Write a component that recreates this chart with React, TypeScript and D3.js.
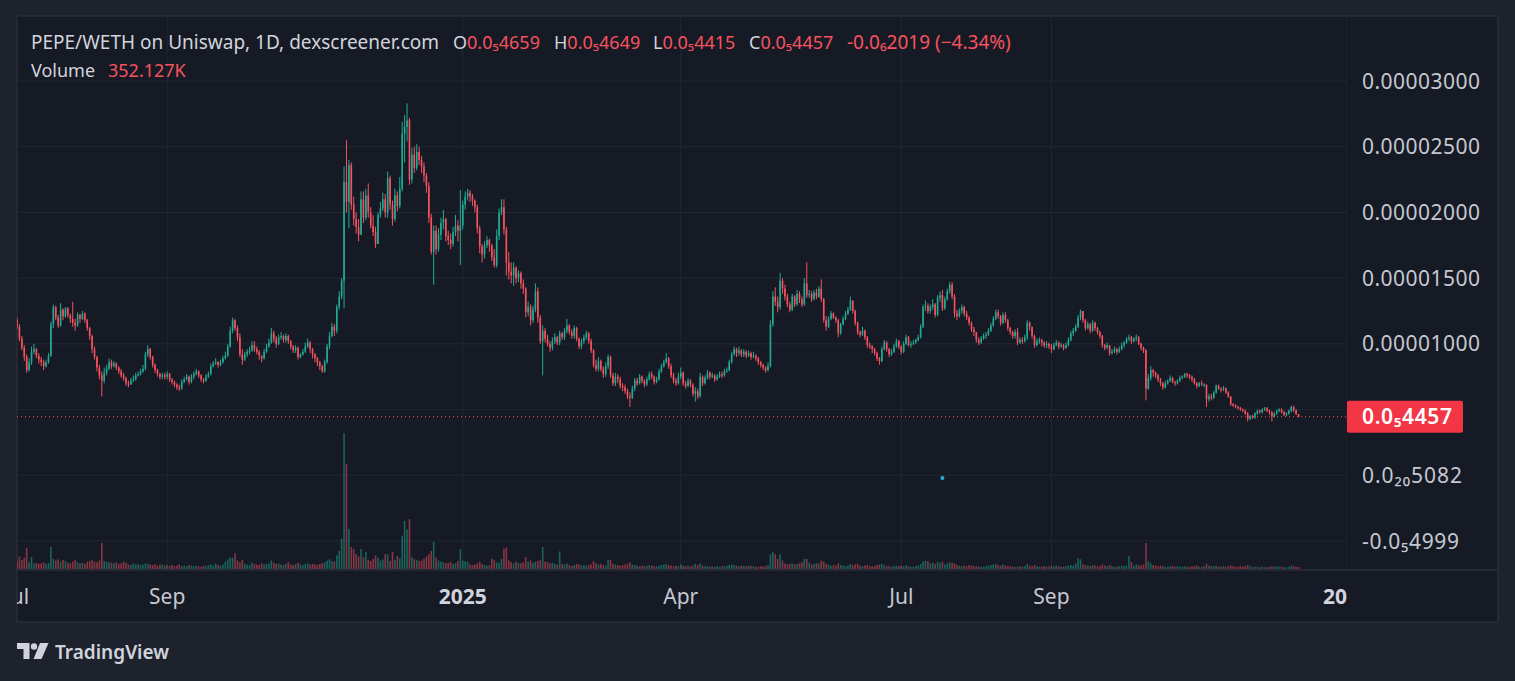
import React from "react";
import * as d3 from "d3";

// prices are in units of 1e-6 WETH, volumes in millions
const startDate = new Date(Date.UTC(2024, 6, 1));
const firstOpen = 11.8;

const closes = [
  // 2024 Jul
  11.3, 10.4, 9.7, 9.0, 8.0, 8.6, 9.4, 9.6, 9.1, 8.8, 8.6, 8.3, 8.6, 9.1, 11.5, 12.8, 12.0, 11.4, 12.6, 12.1, 12.7, 12.2, 11.9, 11.6, 11.4, 12.2, 11.9, 12.3, 11.8, 11.2, 10.6,
  // Aug
  9.6, 9.0, 8.2, 7.6, 7.2, 7.8, 8.1, 8.6, 8.3, 8.5, 8.2, 7.9, 7.6, 7.4, 7.0, 6.9, 7.2, 7.3, 7.6, 7.7, 7.9, 8.1, 9.2, 9.6, 9.0, 8.4, 8.0, 7.7, 7.5, 7.6, 7.5,
  // Sep
  7.7, 7.3, 7.1, 6.9, 6.7, 6.6, 7.1, 7.3, 7.5, 7.1, 7.5, 7.7, 7.9, 7.6, 7.3, 7.2, 7.5, 7.7, 8.3, 8.5, 8.6, 8.4, 8.6, 8.9, 9.1, 9.8, 11.0, 11.8, 11.2, 10.5,
  // Oct
  9.2, 8.8, 9.2, 9.4, 9.5, 9.9, 9.6, 9.4, 9.1, 8.9, 9.4, 9.8, 10.1, 10.8, 10.4, 10.0, 10.5, 10.6, 10.3, 10.6, 10.2, 9.8, 9.5, 9.7, 9.0, 9.2, 9.4, 9.8, 10.1, 9.6, 9.2,
  // Nov
  8.9, 8.6, 8.3, 7.9, 8.6, 9.8, 10.6, 11.3, 11.0, 12.8, 13.6, 14.8, 22.3, 20.8, 23.6, 20.6, 19.5, 18.9, 18.3, 21.0, 19.6, 21.3, 20.0, 19.0, 18.5, 17.6, 19.8, 20.3, 21.0, 20.0,
  // Dec
  22.6, 20.6, 19.5, 21.3, 20.5, 21.8, 26.0, 26.5, 27.0, 22.5, 24.4, 23.4, 24.6, 24.0, 23.5, 22.8, 22.0, 19.6, 17.0, 18.6, 17.2, 18.3, 19.2, 19.5, 18.2, 17.9, 17.6, 18.5, 19.0, 18.6, 19.0,
  // 2025 Jan
  20.6, 21.2, 21.5, 21.2, 20.9, 20.4, 18.8, 17.4, 16.8, 17.5, 17.9, 17.5, 16.6, 16.0, 18.2, 20.0, 20.4, 18.7, 16.2, 15.5, 15.2, 15.8, 15.0, 15.4, 14.6, 14.2, 12.4, 12.8, 11.8, 12.6, 14.0,
  // Feb
  12.0, 10.2, 11.0, 10.4, 10.0, 9.7, 10.2, 10.5, 10.1, 10.8, 10.5, 11.0, 11.4, 10.9, 10.6, 11.2, 10.4, 9.8, 10.2, 10.5, 10.8, 10.2, 9.5, 8.4, 8.1, 8.7, 8.1, 7.7,
  // Mar
  8.3, 9.0, 7.6, 7.0, 7.5, 7.3, 6.8, 6.7, 6.4, 6.0, 5.9, 6.6, 7.2, 7.0, 7.5, 7.2, 6.9, 7.3, 7.7, 7.5, 7.1, 7.3, 7.9, 8.3, 8.6, 8.9, 8.3, 7.6, 7.2, 7.0, 7.5,
  // Apr
  7.8, 7.0, 6.8, 7.2, 6.9, 6.2, 6.4, 6.0, 7.5, 7.0, 7.4, 7.8, 7.5, 7.6, 7.3, 7.5, 7.7, 7.6, 7.9, 8.0, 8.6, 9.2, 9.6, 9.3, 9.5, 9.2, 9.4, 9.1, 9.3, 9.0,
  // May
  9.1, 8.9, 8.6, 8.4, 8.2, 8.0, 8.3, 11.5, 13.6, 13.2, 12.8, 14.8, 14.2, 13.6, 13.0, 12.6, 13.6, 13.0, 13.8, 13.4, 13.0, 14.6, 13.7, 13.8, 13.4, 13.9, 13.6, 14.2, 13.4, 11.8, 11.3,
  // Jun
  11.9, 12.3, 12.0, 11.8, 10.8, 11.5, 11.9, 12.3, 12.6, 13.3, 12.5, 11.6, 10.9, 10.7, 11.0, 10.5, 9.9, 9.8, 9.6, 9.3, 8.9, 8.7, 9.6, 10.1, 9.6, 9.2, 9.4, 9.8, 10.2, 9.8,
  // Jul
  9.4, 10.0, 10.5, 9.9, 10.0, 10.1, 10.3, 10.5, 11.3, 12.8, 12.9, 12.5, 12.8, 13.0, 12.2, 13.5, 13.7, 12.7, 13.4, 14.0, 14.5, 13.6, 12.3, 12.1, 12.5, 12.8, 12.3, 12.0, 11.6, 11.1, 10.9,
  // Aug
  10.3, 10.1, 10.4, 10.6, 10.7, 11.0, 11.4, 11.9, 12.4, 12.1, 11.6, 12.2, 11.8, 11.2, 10.9, 10.6, 10.9, 10.1, 10.3, 10.2, 10.5, 11.6, 11.3, 10.6, 9.9, 10.2, 10.3, 10.1, 9.9, 10.0, 9.8,
  // Sep
  9.6, 9.9, 10.1, 9.8, 9.9, 9.7, 9.9, 10.3, 10.8, 11.0, 11.3, 12.0, 12.5, 11.8, 11.2, 11.5, 11.0, 11.6, 11.2, 10.9, 10.6, 9.9, 9.7, 9.9, 9.3, 9.4, 9.6, 9.4, 9.6, 9.9,
  // Oct
  10.1, 10.4, 10.5, 10.2, 10.4, 10.5, 10.0, 9.7, 9.5, 6.6, 7.4, 8.0, 7.8, 7.6, 7.3, 7.0, 6.7, 7.0, 7.2, 7.4, 7.1, 7.0, 7.2, 7.4, 7.5, 7.7, 7.6, 7.5, 7.3, 7.0, 6.8,
  // Nov
  7.0, 6.9, 6.9, 5.8, 6.0, 5.9, 6.3, 6.8, 6.6, 6.5, 6.6, 6.3, 6.0, 5.4, 5.3, 5.2, 5.1, 5.0, 4.9, 4.7, 4.3, 4.5, 4.4, 4.7, 4.9, 4.8, 5.0, 5.1, 4.9, 4.8,
  // Dec
  4.5, 4.7, 4.9, 5.0, 4.8, 4.6, 4.7, 4.9, 5.2, 4.95, 4.66, 4.457,
];

const highs = [
  12.0, 11.5, 10.6, 9.9, 9.2, 8.9, 9.8, 10.0, 9.7, 9.3, 9.0, 8.8, 8.8, 9.3, 11.7, 13.0, 12.9, 12.2, 13.1, 12.7, 12.8, 12.8, 12.3, 13.2, 11.9, 12.4, 12.3, 12.5, 12.4, 11.9, 11.3,
  10.7, 9.8, 9.1, 8.4, 7.9, 8.2, 8.4, 8.9, 8.8, 8.7, 8.6, 8.3, 8.1, 7.8, 7.5, 7.2, 7.4, 7.6, 7.8, 7.9, 8.1, 8.4, 9.4, 9.9, 9.7, 9.1, 8.5, 8.1, 7.8, 7.8, 7.8,
  7.9, 7.8, 7.4, 7.2, 7.0, 6.9, 7.3, 7.5, 7.7, 7.6, 7.7, 7.9, 8.1, 8.0, 7.7, 7.4, 7.7, 7.9, 8.5, 8.7, 8.9, 8.7, 8.8, 9.1, 9.4, 10.0, 11.3, 12.0, 11.9, 11.4,
  10.8, 9.6, 9.4, 9.6, 9.8, 10.2, 10.2, 9.8, 9.5, 9.1, 9.6, 10.0, 10.4, 11.2, 11.0, 10.6, 10.7, 10.9, 10.7, 10.8, 10.7, 10.3, 9.9, 9.9, 9.8, 9.3, 9.6, 10.1, 10.4, 10.2, 9.7,
  9.3, 9.0, 8.7, 8.4, 8.8, 10.0, 10.9, 11.6, 11.5, 13.0, 14.0, 15.0, 23.5, 25.5, 24.0, 23.8, 21.2, 20.0, 19.5, 21.6, 21.6, 21.8, 22.2, 20.4, 19.8, 18.9, 20.0, 20.8, 21.5, 21.4,
  23.1, 22.8, 20.9, 21.8, 21.6, 22.7, 26.9, 27.4, 28.3, 27.2, 24.9, 25.0, 25.2, 25.0, 24.3, 23.8, 23.0, 22.3, 19.9, 19.0, 19.0, 18.8, 19.6, 20.2, 19.6, 18.6, 18.4, 18.9, 19.8, 19.4, 21.7,
  20.9, 21.6, 21.8, 21.7, 21.4, 21.0, 20.6, 19.0, 17.6, 17.8, 18.2, 18.0, 17.6, 17.2, 18.7, 20.3, 21.0, 21.0, 18.9, 17.0, 16.2, 16.2, 15.9, 15.6, 15.5, 14.9, 14.3, 13.2, 13.0, 12.9, 14.6,
  14.3, 12.2, 11.4, 11.2, 10.7, 10.2, 10.5, 10.8, 10.6, 11.0, 10.9, 11.2, 11.9, 11.5, 11.1, 11.4, 11.3, 10.5, 10.4, 10.7, 11.0, 10.9, 10.4, 9.6, 8.8, 9.0, 8.8, 8.3,
  8.6, 9.2, 9.1, 7.8, 7.8, 7.7, 7.5, 7.0, 6.9, 6.6, 6.3, 6.8, 7.4, 7.4, 7.7, 7.6, 7.3, 7.5, 7.9, 7.9, 7.6, 7.5, 8.1, 8.5, 8.8, 9.3, 9.0, 8.5, 7.8, 7.4, 7.8,
  8.2, 7.9, 7.2, 7.4, 7.3, 7.0, 6.7, 6.6, 7.8, 7.6, 7.6, 8.0, 7.9, 7.8, 7.7, 7.7, 7.9, 7.9, 8.1, 8.2, 8.8, 9.4, 9.8, 9.7, 9.8, 9.6, 9.6, 9.5, 9.5, 9.4,
  9.4, 9.2, 9.0, 8.7, 8.5, 8.3, 8.6, 11.8, 14.0, 14.3, 13.6, 15.4, 15.0, 14.5, 13.8, 13.2, 13.8, 13.7, 14.1, 14.0, 13.6, 15.0, 16.2, 14.1, 14.0, 14.1, 14.2, 14.4, 14.9, 13.5, 12.1,
  12.1, 12.5, 12.4, 12.1, 11.9, 11.6, 12.1, 12.5, 12.8, 13.6, 13.3, 12.6, 11.7, 11.0, 11.3, 11.1, 10.6, 10.1, 9.9, 9.7, 9.4, 9.0, 9.8, 10.3, 10.2, 9.7, 9.6, 10.0, 10.4, 10.3,
  9.9, 10.2, 10.7, 10.6, 10.2, 10.3, 10.4, 10.7, 11.5, 13.0, 13.3, 13.1, 13.0, 13.4, 13.1, 13.7, 14.0, 14.1, 13.6, 14.2, 14.7, 14.7, 13.8, 12.6, 12.7, 13.0, 12.9, 12.5, 12.1, 11.7, 11.3,
  10.9, 10.5, 10.6, 10.8, 10.9, 11.2, 11.6, 12.1, 12.6, 12.6, 12.2, 12.4, 12.4, 11.9, 11.3, 11.0, 11.1, 11.2, 10.5, 10.5, 10.7, 11.8, 11.7, 11.3, 10.7, 10.4, 10.5, 10.4, 10.2, 10.2, 10.1,
  10.0, 10.1, 10.3, 10.2, 10.1, 10.0, 10.1, 10.5, 11.0, 11.2, 11.5, 12.2, 12.6, 12.5, 11.9, 11.7, 11.6, 11.8, 11.7, 11.3, 11.0, 10.7, 10.0, 10.1, 9.9, 9.6, 9.8, 9.7, 9.8, 10.1,
  10.2, 10.5, 10.7, 10.6, 10.5, 10.7, 10.6, 10.1, 9.8, 9.6, 7.7, 8.3, 8.1, 7.9, 7.7, 7.4, 7.1, 7.2, 7.3, 7.6, 7.5, 7.2, 7.3, 7.6, 7.6, 7.8, 7.8, 7.7, 7.6, 7.4, 7.1,
  7.1, 7.2, 7.0, 6.9, 6.2, 6.2, 6.4, 6.9, 6.9, 6.7, 6.8, 6.7, 6.4, 6.0, 5.5, 5.4, 5.3, 5.2, 5.1, 5.0, 4.8, 4.6, 4.6, 4.8, 5.0, 5.0, 5.1, 5.2, 5.2, 5.0,
  4.9, 4.8, 5.0, 5.1, 5.1, 4.9, 4.8, 5.0, 5.3, 5.3, 5.0, 4.649,
];

const lows = [
  11.1, 10.2, 9.5, 8.7, 7.8, 7.9, 8.4, 9.2, 8.9, 8.5, 8.3, 8.0, 8.2, 8.5, 9.0, 11.2, 11.8, 11.2, 11.3, 11.8, 12.0, 12.0, 11.6, 11.3, 11.0, 11.3, 11.6, 11.8, 11.6, 11.0, 10.3,
  9.3, 8.8, 7.9, 7.3, 6.0, 7.0, 7.6, 8.0, 8.1, 8.2, 8.0, 7.7, 7.4, 7.2, 6.8, 6.7, 6.9, 7.1, 7.2, 7.5, 7.6, 7.8, 8.0, 9.0, 8.8, 8.2, 7.8, 7.5, 7.3, 7.3, 7.3,
  7.3, 7.1, 6.9, 6.7, 6.5, 6.4, 6.5, 7.0, 7.2, 6.9, 7.0, 7.3, 7.6, 7.4, 7.1, 7.0, 7.1, 7.4, 7.6, 8.2, 8.4, 8.2, 8.3, 8.5, 8.8, 9.0, 9.7, 10.8, 11.0, 10.2,
  9.0, 8.4, 8.7, 9.0, 9.2, 9.4, 9.4, 9.2, 8.8, 8.6, 8.8, 9.3, 9.7, 10.0, 10.1, 9.7, 9.9, 10.3, 10.1, 10.1, 10.0, 9.6, 9.3, 9.3, 8.8, 8.9, 9.1, 9.3, 9.7, 9.3, 8.9,
  8.6, 8.3, 8.0, 7.8, 7.8, 8.5, 9.6, 10.5, 10.6, 10.8, 12.6, 13.4, 12.7, 20.0, 18.8, 20.2, 19.0, 18.4, 17.8, 18.3, 19.2, 19.4, 19.6, 18.8, 18.2, 17.3, 17.6, 19.6, 20.1, 19.6,
  19.6, 20.2, 19.0, 19.3, 20.1, 20.3, 21.6, 23.8, 25.4, 22.1, 22.2, 23.0, 23.2, 23.6, 23.0, 22.3, 21.5, 19.2, 16.8, 14.5, 16.8, 17.0, 17.9, 18.7, 17.8, 17.5, 17.2, 17.4, 18.2, 17.8, 16.0,
  18.7, 20.2, 20.9, 20.8, 20.5, 20.0, 18.4, 16.9, 16.2, 16.5, 17.3, 17.0, 16.3, 15.8, 15.8, 17.9, 19.8, 18.3, 15.2, 14.9, 14.6, 14.4, 14.6, 14.7, 14.2, 13.8, 12.0, 12.1, 11.4, 11.6, 12.4,
  11.6, 10.0, 7.6, 10.1, 9.8, 9.4, 9.5, 10.0, 9.9, 9.9, 10.3, 10.3, 10.8, 10.7, 10.4, 10.4, 10.2, 9.6, 9.6, 10.0, 10.3, 10.0, 9.3, 8.2, 7.9, 7.9, 7.9, 7.4,
  7.5, 8.1, 7.4, 6.8, 6.8, 7.0, 6.6, 6.4, 6.2, 5.8, 5.2, 5.8, 6.4, 6.8, 6.9, 7.0, 6.7, 6.8, 7.2, 7.3, 6.9, 7.0, 7.2, 7.8, 8.2, 8.5, 8.1, 7.4, 7.0, 6.8, 6.9,
  7.3, 6.8, 6.6, 6.7, 6.7, 6.0, 5.6, 5.8, 5.9, 6.8, 6.9, 7.3, 7.3, 7.4, 7.1, 7.2, 7.4, 7.4, 7.5, 7.8, 7.9, 8.5, 9.1, 9.0, 9.1, 9.0, 9.0, 8.9, 9.0, 8.8,
  8.9, 8.7, 8.4, 8.2, 8.0, 7.8, 7.9, 8.2, 11.3, 12.9, 12.4, 12.6, 13.8, 13.3, 12.8, 12.4, 12.5, 12.8, 12.9, 13.1, 12.8, 12.9, 13.5, 13.5, 13.2, 13.3, 13.4, 13.5, 13.2, 11.6, 11.0,
  11.2, 11.8, 11.9, 11.6, 10.5, 10.7, 11.4, 11.8, 12.2, 12.5, 12.3, 11.4, 10.7, 10.5, 10.6, 10.3, 9.7, 9.6, 9.3, 9.1, 8.7, 8.4, 8.6, 9.5, 9.4, 9.0, 9.1, 9.3, 9.7, 9.6,
  9.2, 9.3, 9.9, 9.8, 9.7, 9.9, 10.0, 10.2, 10.4, 11.2, 12.5, 12.3, 12.3, 12.6, 12.0, 12.1, 13.2, 12.5, 12.6, 13.3, 13.8, 13.4, 12.0, 11.8, 12.0, 12.3, 12.1, 11.8, 11.4, 10.9, 10.6,
  10.1, 9.9, 10.0, 10.3, 10.4, 10.6, 10.9, 11.3, 11.8, 11.9, 11.4, 11.5, 11.6, 11.0, 10.7, 10.4, 10.4, 9.9, 10.0, 10.0, 10.1, 10.3, 11.0, 10.4, 9.7, 9.8, 10.0, 9.8, 9.7, 9.7, 9.6,
  9.3, 9.5, 9.8, 9.6, 9.7, 9.5, 9.6, 9.8, 10.2, 10.6, 10.9, 11.2, 11.8, 11.6, 11.0, 11.1, 10.8, 10.9, 11.0, 10.7, 10.4, 9.7, 9.5, 9.6, 9.1, 9.2, 9.3, 9.2, 9.3, 9.5,
  9.7, 10.0, 10.2, 10.0, 10.1, 10.2, 9.9, 9.5, 9.3, 5.7, 6.5, 7.2, 7.5, 7.4, 7.1, 6.8, 6.5, 6.6, 6.9, 7.1, 7.0, 6.8, 6.9, 7.1, 7.3, 7.4, 7.4, 7.3, 7.1, 6.9, 6.6,
  6.7, 6.8, 6.7, 5.2, 5.6, 5.7, 5.8, 6.2, 6.5, 6.3, 6.4, 6.2, 5.9, 5.3, 5.2, 5.1, 5.0, 4.9, 4.8, 4.6, 4.1, 4.2, 4.3, 4.3, 4.6, 4.7, 4.7, 4.9, 4.8, 4.6,
  4.1, 4.4, 4.6, 4.8, 4.7, 4.5, 4.5, 4.6, 4.8, 4.8, 4.6, 4.415,
];

const volumes = [
  1.4, 2.2, 1.6, 2.0, 3.7, 1.2, 2.1, 1.0, 1.1, 0.9, 1.0, 1.2, 0.9, 1.1, 3.9, 1.8, 1.5, 1.7, 1.3, 1.6, 1.4, 1.1, 1.0, 1.3, 1.6, 1.2, 1.0, 1.1, 0.9, 1.3, 1.4,
  1.6, 1.3, 1.2, 1.5, 4.6, 1.4, 1.3, 1.2, 1.1, 1.0, 1.2, 0.9, 1.0, 1.3, 1.1, 0.8, 0.7, 1.0, 0.8, 0.9, 0.7, 0.8, 1.0, 0.9, 0.8, 0.7, 0.8, 0.6, 0.7, 0.8, 0.6,
  0.7, 0.6, 0.7, 0.5, 0.6, 0.8, 0.5, 0.6, 0.5, 0.7, 0.6, 0.5, 0.6, 0.5, 0.4, 0.6, 0.5, 0.7, 0.8, 0.6, 1.0, 0.7, 0.6, 0.8, 1.3, 1.7, 2.0, 2.0, 2.8, 1.5,
  1.2, 1.6, 0.9, 0.8, 0.7, 1.1, 0.9, 0.8, 0.7, 1.0, 0.8, 0.9, 1.0, 1.5, 1.1, 0.9, 1.0, 0.8, 0.7, 0.9, 1.2, 0.8, 0.7, 0.9, 1.1, 0.8, 0.7, 0.9, 1.0, 0.8, 0.9,
  0.8, 0.7, 0.9, 1.0, 1.2, 1.5, 1.7, 1.4, 1.3, 2.4, 3.2, 5.3, 24.0, 18.5, 7.1, 3.9, 3.5, 2.6, 2.2, 3.5, 2.1, 3.0, 1.6, 1.4, 1.8, 2.4, 2.0, 1.5, 1.7, 2.6,
  2.6, 1.4, 3.0, 1.6, 2.3, 1.9, 5.8, 8.5, 7.0, 8.8, 2.1, 1.8, 1.6, 1.4, 1.5, 1.8, 2.2, 2.6, 3.2, 4.8, 2.0, 1.5, 1.3, 1.2, 1.0, 1.1, 1.2, 0.9, 1.0, 1.4, 3.5,
  1.5, 1.4, 1.3, 0.8, 0.7, 0.8, 1.0, 1.3, 0.9, 0.7, 0.6, 0.7, 1.8, 1.6, 1.2, 1.1, 1.8, 3.6, 3.8, 1.5, 1.2, 1.0, 1.3, 1.1, 1.0, 1.2, 2.1, 1.3, 1.5, 1.1, 1.3,
  1.4, 1.6, 3.9, 1.3, 1.2, 1.0, 1.1, 0.9, 0.8, 3.1, 0.9, 0.8, 1.0, 0.7, 0.6, 0.7, 0.9, 0.8, 0.6, 0.7, 0.6, 0.7, 0.8, 1.4, 1.0, 0.8, 0.9, 0.7,
  0.6, 1.6, 1.6, 0.9, 0.8, 0.7, 0.6, 0.7, 0.8, 0.9, 1.2, 0.8, 0.7, 0.6, 0.5, 0.6, 0.5, 0.6, 0.7, 0.6, 0.5, 0.5, 0.6, 0.7, 0.8, 0.9, 0.7, 0.6, 0.5, 0.6, 0.5,
  0.8, 0.6, 0.5, 0.6, 0.5, 0.6, 0.9, 0.7, 1.0, 0.6, 0.5, 0.5, 0.4, 0.5, 0.4, 0.5, 0.4, 0.5, 0.5, 0.6, 0.7, 0.8, 0.7, 0.6, 0.5, 0.6, 0.5, 0.5, 0.6, 0.5,
  0.5, 0.4, 0.4, 0.5, 0.4, 0.5, 0.7, 2.6, 3.0, 2.6, 1.8, 2.6, 1.5, 1.0, 0.8, 0.9, 1.0, 0.8, 0.9, 1.0, 1.2, 1.8, 1.8, 1.1, 0.8, 0.9, 1.0, 1.0, 1.5, 1.3, 0.9,
  0.8, 0.6, 0.7, 0.6, 1.0, 0.7, 0.6, 0.5, 0.6, 0.9, 0.7, 0.8, 0.9, 0.6, 0.5, 0.6, 0.7, 0.5, 0.5, 0.6, 0.7, 0.8, 0.9, 0.7, 0.5, 0.5, 0.4, 0.5, 0.6, 0.5,
  0.6, 0.5, 0.7, 0.5, 0.4, 0.4, 0.5, 0.6, 0.9, 1.3, 1.5, 1.4, 1.0, 1.1, 0.9, 1.2, 1.1, 1.3, 0.8, 1.0, 1.2, 1.1, 1.0, 0.7, 0.6, 0.5, 0.6, 0.5, 0.7, 0.6, 0.5,
  0.5, 0.4, 0.4, 0.4, 0.5, 0.6, 0.7, 0.8, 0.9, 0.7, 0.6, 0.8, 0.6, 0.5, 0.5, 0.4, 0.4, 0.4, 0.5, 0.4, 0.5, 0.9, 0.6, 0.5, 0.7, 0.5, 0.4, 0.4, 0.5, 0.4, 0.4,
  0.6, 0.5, 0.6, 0.5, 0.4, 0.4, 0.5, 0.6, 0.7, 0.6, 1.0, 1.9, 1.7, 0.8, 0.7, 0.6, 0.5, 0.7, 0.6, 0.5, 0.5, 0.8, 0.6, 0.5, 0.7, 0.5, 0.4, 0.4, 0.5, 0.6,
  0.5, 0.6, 2.3, 1.2, 0.6, 0.8, 0.7, 0.6, 0.8, 4.6, 1.4, 1.0, 0.7, 0.6, 0.5, 0.6, 0.5, 0.4, 0.4, 0.5, 0.5, 0.4, 0.5, 0.4, 0.4, 0.5, 0.4, 0.4, 0.5, 0.5, 0.6,
  0.4, 0.4, 0.5, 0.9, 0.6, 0.5, 0.5, 0.6, 0.4, 0.4, 0.5, 0.4, 0.5, 0.6, 0.5, 0.4, 0.4, 0.5, 0.4, 0.5, 0.7, 0.5, 0.3, 0.4, 0.4, 0.3, 0.4, 0.3, 0.3, 0.4,
  0.5, 0.4, 0.5, 0.4, 0.4, 0.3, 0.3, 0.4, 0.6, 0.5, 0.4, 0.352,
];

const priceTicks = [30, 25, 20, 15, 10, 5, 0, -5];
const priceTickLabels = ["0.00003000", "0.00002500", "0.00002000", "0.00001500", "0.00001000", "", "0.0₂₀5082", "-0.0₅4999"];
// rendered label widths in the picture, px
const priceTickWidths = [118, 118, 118, 118, 118, 0, 100, 97];

const timeTicks = [
  new Date(Date.UTC(2024, 6, 1)),
  new Date(Date.UTC(2024, 8, 1)),
  new Date(Date.UTC(2025, 0, 1)),
  new Date(Date.UTC(2025, 3, 1)),
  new Date(Date.UTC(2025, 6, 1)),
  new Date(Date.UTC(2025, 8, 1)),
  new Date(Date.UTC(2026, 0, 1)),
];
const timeTickLabels = ["Jul", "Sep", "2025", "Apr", "Jul", "Sep", "2026"];
const yearTicks = ["2025", "2026"];

const lastPrice = 4.457;
const lastPriceLabel = "0.0₅4457";

const ohlcLabels = ["O", "H", "L", "C"];
const ohlcValues = ["0.0₅4659", "0.0₅4649", "0.0₅4415", "0.0₅4457"];
const changeLabel = "-0.0₆2019 (−4.34%)";
const volumeLabel = "352.127K";

const markerDates = [new Date(Date.UTC(2025, 6, 18))];
const markerValues = [-0.2];

const W = 1515;
const H = 681;
const plot = { left: 17, right: 1347, top: 16, bottom: 570 };
const frame = { left: 17, right: 1498, top: 16, bottom: 622 };
const FONT = "'Noto Sans', 'DejaVu Sans', sans-serif";
const UP = "#22ab94";
const DOWN = "#f7525f";
const RED_TEXT = "#f7525f";
const GREY = "#c5c8d0";

const App: React.FC = () => {
  const x = d3
    .scaleUtc()
    .domain([timeTicks[0], timeTicks[timeTicks.length - 1]])
    .range([plot.left, plot.right]);
  const y = d3.scaleLinear().domain([-5, 30]).range([541, 81]);
  const yVol = d3.scaleLinear().domain([0, 24]).range([569, 433]);

  const candles = closes.map((c, i) => {
    const o = i === 0 ? firstOpen : closes[i - 1];
    return {
      date: d3.utcDay.offset(startDate, i),
      o,
      c,
      h: Math.max(highs[i], o, c),
      l: Math.min(lows[i], o, c),
      v: volumes[i],
    };
  });

  const ohlcX = [453, 554, 653, 749];

  return (
    <div style={{ position: "fixed", left: 0, top: 0, width: W, height: H, background: "#1e222c" }}>
      <svg width={W} height={H} style={{ display: "block" }} fontFamily={FONT}>
        <defs>
          <clipPath id="plotClip">
            <rect x={plot.left} y={plot.top} width={plot.right - plot.left} height={plot.bottom - plot.top} />
          </clipPath>
          <clipPath id="timeClip">
            <rect x={plot.left} y={plot.bottom} width={plot.right - plot.left} height={frame.bottom - plot.bottom} />
          </clipPath>
        </defs>
        <rect width={W} height={H} fill="#1e222c" />
        <rect
          x={frame.left}
          y={frame.top}
          width={frame.right - frame.left}
          height={frame.bottom - frame.top}
          fill="#161a25"
          stroke="#2a2e39"
          strokeWidth={1.5}
        />

        <g clipPath="url(#plotClip)">
          {priceTicks.map((t) => (
            <line key={"h" + t} x1={plot.left} x2={plot.right} y1={y(t)} y2={y(t)} stroke="#232733" strokeWidth={1} />
          ))}
          {timeTicks.map((t, i) => (
            <line key={"v" + i} x1={x(t)} x2={x(t)} y1={plot.top} y2={plot.bottom} stroke="#232733" strokeWidth={1} />
          ))}

          {candles.map((d, i) => (
            <rect
              key={"vol" + i}
              x={x(d.date) - 0.8}
              y={yVol(d.v)}
              width={1.6}
              height={yVol(0) - yVol(d.v)}
              fill={d.c >= d.o ? UP : DOWN}
              opacity={0.5}
            />
          ))}

          {candles.map((d, i) => {
            const col = d.c >= d.o ? UP : DOWN;
            const cx = x(d.date);
            const top = y(Math.max(d.o, d.c));
            const bot = y(Math.min(d.o, d.c));
            return (
              <g key={"c" + i}>
                <line x1={cx} x2={cx} y1={y(d.h)} y2={y(d.l)} stroke={col} strokeWidth={1} />
                <rect x={cx - 0.8} y={top} width={1.6} height={Math.max(1, bot - top)} fill={col} />
              </g>
            );
          })}

          <line
            x1={plot.left}
            x2={plot.right}
            y1={y(lastPrice)}
            y2={y(lastPrice)}
            stroke={DOWN}
            strokeWidth={1}
            strokeDasharray="1 3"
          />

          {markerDates.map((d, i) => (
            <circle key={"m" + i} cx={x(d)} cy={y(markerValues[i])} r={2} fill="#2eaadc" />
          ))}
        </g>

        <line x1={frame.left} x2={frame.right} y1={plot.bottom} y2={plot.bottom} stroke="#2a2e39" strokeWidth={1.5} />

        {/* price axis */}
        {priceTicks.map((t, i) =>
          priceTickLabels[i] ? (
            <text
              key={"pl" + i}
              x={1362}
              y={y(t)}
              dy="0.36em"
              fontSize={21}
              fill={GREY}
              textLength={priceTickWidths[i]}
              lengthAdjust="spacing"
            >
              {priceTickLabels[i]}
            </text>
          ) : null
        )}
        <rect x={1347} y={y(lastPrice) - 16} width={116} height={32} rx={2} fill="#f23645" />
        <text
          x={1362}
          y={y(lastPrice)}
          dy="0.36em"
          fontSize={21}
          fontWeight={600}
          fill="#ffffff"
          textLength={90}
          lengthAdjust="spacing"
        >
          {lastPriceLabel}
        </text>

        {/* time axis */}
        <g clipPath="url(#timeClip)">
          {timeTicks.map((t, i) => {
            const isYear = yearTicks.includes(timeTickLabels[i]);
            return (
              <text
                key={"tl" + i}
                x={x(t)}
                y={604}
                textAnchor="middle"
                fontSize={21}
                fontWeight={isYear ? 700 : 400}
                fill={isYear ? "#d1d4dc" : GREY}
              >
                {timeTickLabels[i]}
              </text>
            );
          })}
        </g>

        {/* legend */}
        <text x={31} y={49} fontSize={19} fill="#d1d4dc">
          PEPE/WETH on Uniswap, 1D, dexscreener.com
        </text>
        {ohlcLabels.map((lab, i) => (
          <text key={"o" + i} x={ohlcX[i]} y={49} fontSize={18}>
            <tspan fill="#d1d4dc">{lab}</tspan>
            <tspan fill={RED_TEXT}>{ohlcValues[i]}</tspan>
          </text>
        ))}
        <text x={847} y={49} fontSize={19} fill={RED_TEXT}>
          {changeLabel}
        </text>
        <text x={31} y={77} fontSize={18} fill="#d1d4dc">
          Volume
        </text>
        <text x={108} y={77} fontSize={18} fill={RED_TEXT}>
          {volumeLabel}
        </text>

        {/* TradingView logo */}
        <g fill="#d1d4dc">
          <path d="M17 643 H29.5 V659 H23.5 V649 H17 Z" />
          <circle cx={34} cy={646.5} r={3.2} />
          <path d="M40 643 H48.5 L41.5 659 H33.5 Z" />
        </g>
        <text x={55} y={659} fontSize={19} fontWeight={600} fill="#d1d4dc">
          TradingView
        </text>
      </svg>
    </div>
  );
};

export default App;
